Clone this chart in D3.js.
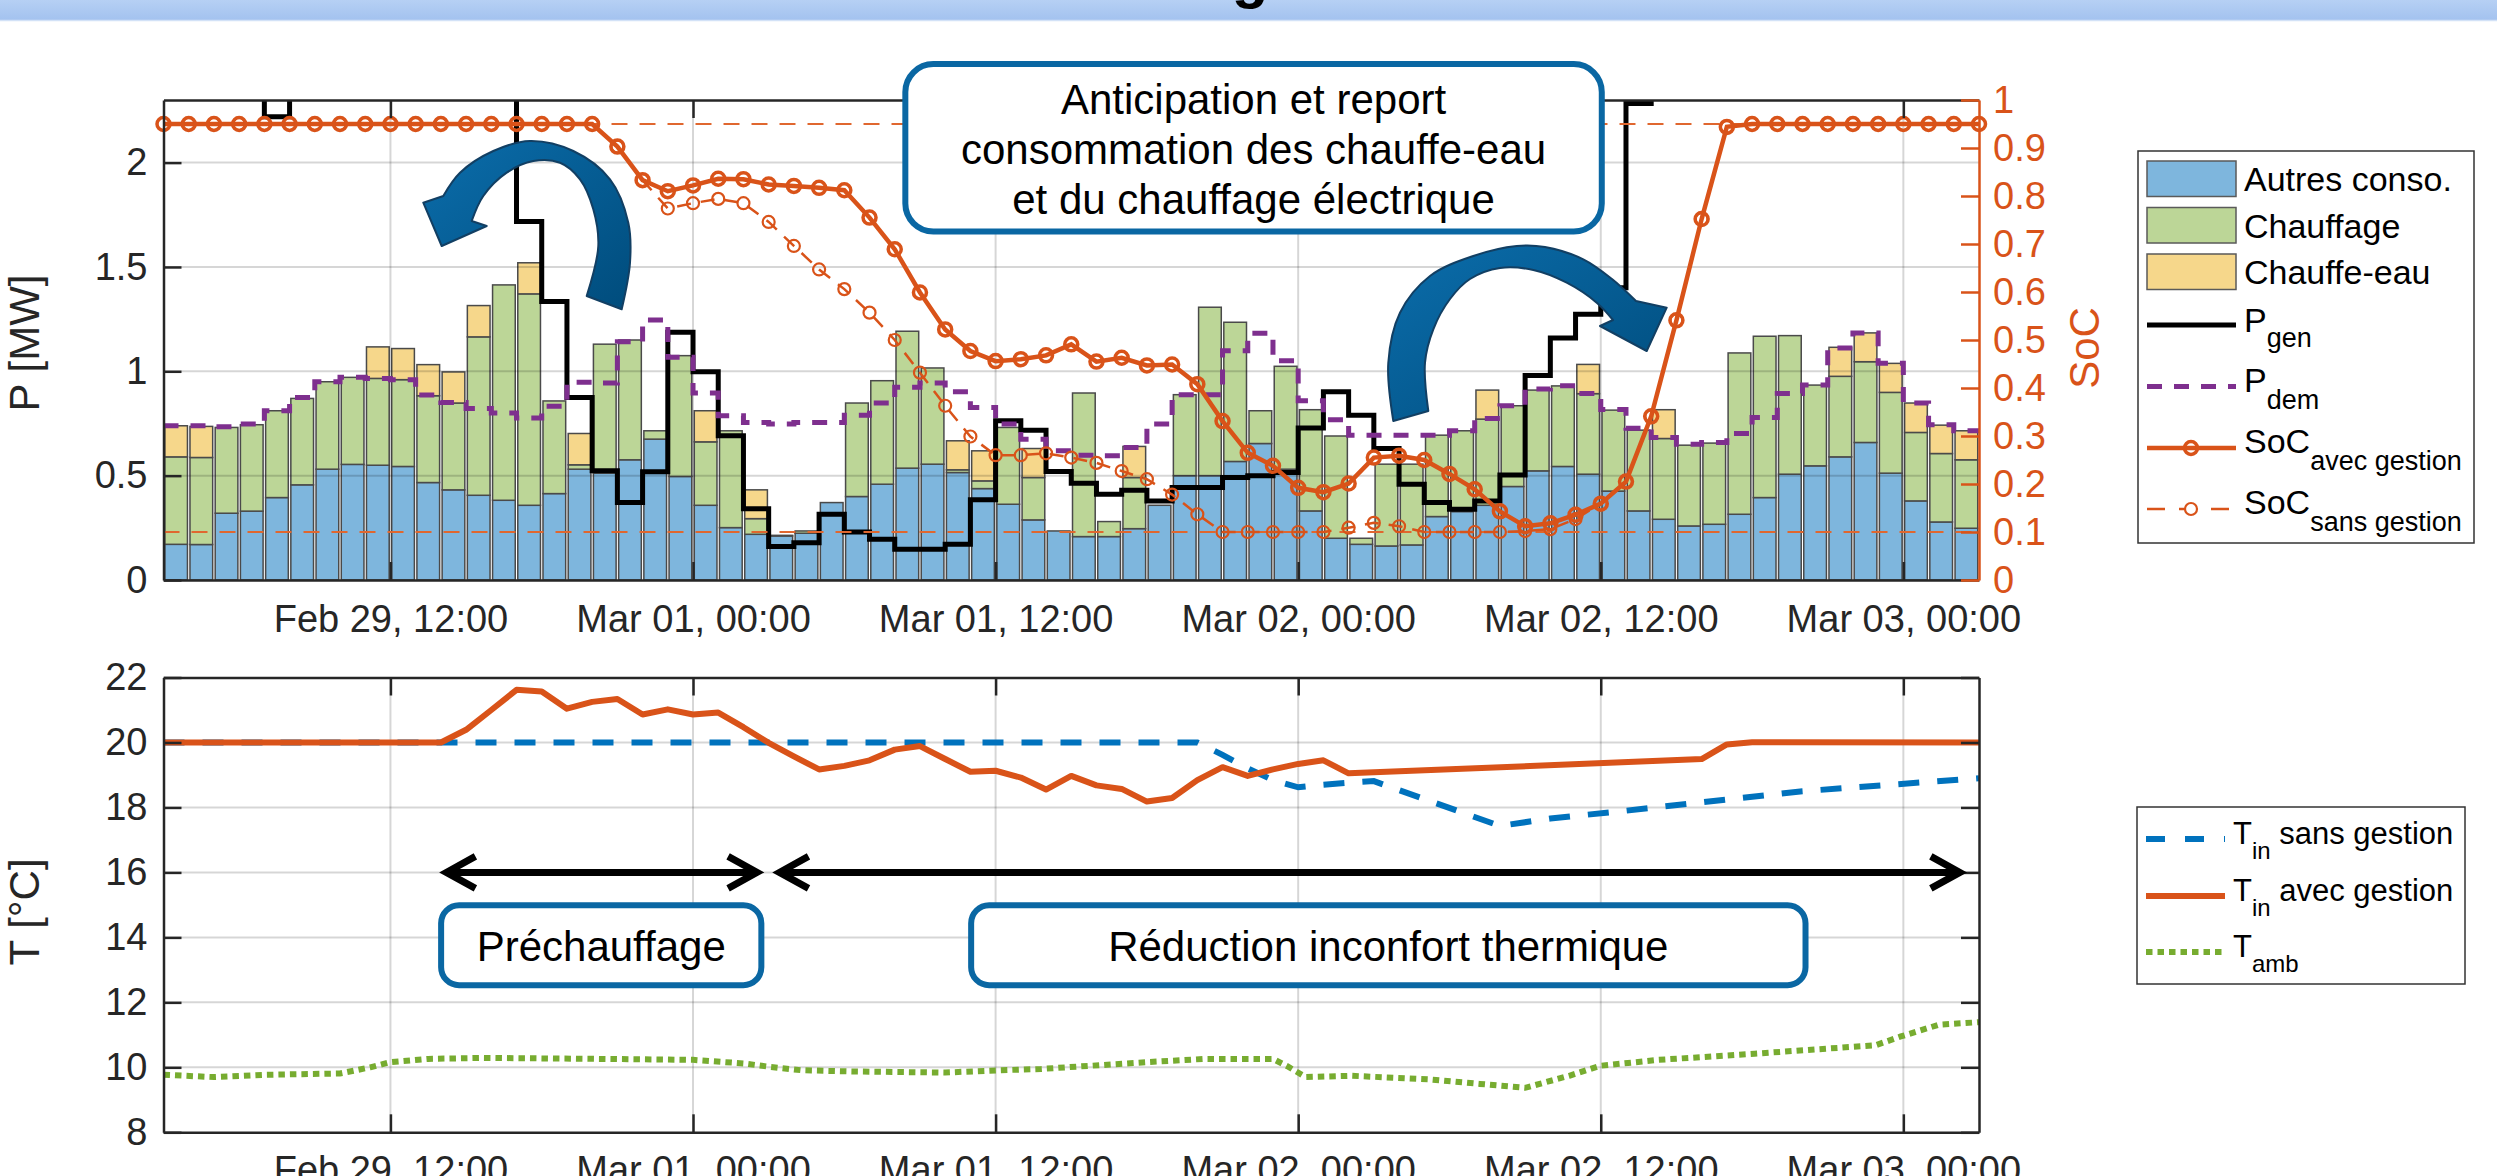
<!DOCTYPE html>
<html>
<head>
<meta charset="utf-8">
<script src="https://cdn.jsdelivr.net/npm/d3@7"></script>
<style>
  body { margin: 0; background: #fff; }
  svg { display: block; font-family: "Liberation Sans", Arial, sans-serif; }
</style>
</head>
<body>
<svg id="chart" width="2497" height="1176"></svg>
<script>
// ---------- data (hourly, starting Feb 29 03:00) ----------
const startTime = new Date(2024, 1, 29, 3);
const nHours = 72;

// stacked consumption [MW], one value per hour
const autres = [0.171, 0.170, 0.320, 0.330, 0.395, 0.456, 0.531, 0.554, 0.550, 0.544, 0.467, 0.432,
  0.406, 0.382, 0.358, 0.414, 0.531, 0.512, 0.576, 0.675, 0.496, 0.358, 0.251, 0.219,
  0.211, 0.224, 0.371, 0.400, 0.459, 0.536, 0.555, 0.515, 0.438, 0.363, 0.288, 0.235,
  0.208, 0.208, 0.246, 0.358, 0.500, 0.500, 0.568, 0.654, 0.531, 0.331, 0.200, 0.171,
  0.163, 0.168, 0.304, 0.328, 0.358, 0.448, 0.523, 0.544, 0.507, 0.426, 0.331, 0.291,
  0.259, 0.267, 0.315, 0.395, 0.507, 0.547, 0.590, 0.659, 0.512, 0.379, 0.278, 0.248];
const chauffage = [0.419, 0.417, 0.411, 0.414, 0.416, 0.414, 0.419, 0.417, 0.416, 0.416, 0.416, 0.416,
  0.759, 1.032, 1.013, 0.444, 0.021, 0.618, 0.574, 0.040, 0.579, 0.304, 0.464, 0.075,
  0.003, 0.011, 0, 0.448, 0.496, 0.656, 0.461, 0.013, 0.037, 0.368, 0.203, 0,
  0.688, 0.072, 0.245, 0, 0.388, 0.807, 0.667, 0.157, 0.493, 0.485, 0.490, 0.029,
  0.392, 0.387, 0.390, 0.387, 0.413, 0.387, 0.387, 0.386, 0.386, 0.388, 0.387, 0.387,
  0.387, 0.389, 0.773, 0.773, 0.664, 0.387, 0.386, 0.387, 0.387, 0.328, 0.328, 0.328];
const chauffeEau = [0.149, 0.149, 0, 0, 0, 0, 0, 0, 0.151, 0.149, 0.149, 0.149,
  0.150, 0, 0.149, 0, 0.150, 0, 0, 0, 0, 0.149, 0, 0.138,
  0, 0, 0, 0, 0, 0, 0, 0.139, 0.144, 0, 0.139, 0,
  0, 0, 0.149, 0, 0, 0, 0, 0, 0, 0, 0, 0,
  0, 0, 0, 0, 0.139, 0, 0, 0, 0.140, 0, 0, 0.138,
  0, 0, 0, 0, 0, 0, 0.139, 0.138, 0.139, 0.141, 0.136, 0.139];

// generation and demand [MW] (values above 2.3 leave the plot)
const pGen = [2.6, 2.6, 2.6, 2.6, 2.22, 2.6, 2.6, 2.6, 2.6, 2.6, 2.6, 2.6,
  2.6, 2.6, 1.718, 1.334, 0.875, 0.523, 0.371, 0.519, 1.187, 0.998, 0.691, 0.342,
  0.160, 0.179, 0.315, 0.230, 0.195, 0.147, 0.147, 0.171, 0.384, 0.763, 0.718, 0.520,
  0.464, 0.411, 0.430, 0.379, 0.443, 0.443, 0.491, 0.499, 0.515, 0.728, 0.902, 0.790,
  0.630, 0.459, 0.371, 0.339, 0.379, 0.503, 0.980, 1.160, 1.273, 1.400, 2.283, 2.6,
  2.6, 2.6, 2.6, 2.6, 2.6, 2.6, 2.6, 2.6, 2.6, 2.6, 2.6, 2.6];
const pDem = [0.739, 0.739, 0.734, 0.747, 0.811, 0.875, 0.950, 0.971, 0.966, 0.960, 0.886, 0.851,
  0.822, 0.800, 0.776, 0.832, 0.947, 0.944, 1.142, 1.246, 1.067, 0.896, 0.787, 0.755,
  0.747, 0.755, 0.755, 0.790, 0.848, 0.923, 0.944, 0.902, 0.827, 0.747, 0.675, 0.619,
  0.598, 0.595, 0.635, 0.747, 0.888, 0.888, 1.099, 1.182, 1.051, 0.859, 0.768, 0.694,
  0.694, 0.694, 0.694, 0.715, 0.774, 0.835, 0.915, 0.931, 0.894, 0.817, 0.727, 0.683,
  0.651, 0.659, 0.702, 0.779, 0.894, 0.934, 1.112, 1.184, 1.038, 0.848, 0.744, 0.715];

// state of charge, one value per hour boundary (73 points)
const socAvec = [0.95, 0.95, 0.95, 0.95, 0.95, 0.95, 0.95, 0.95, 0.95, 0.95, 0.95, 0.95,
  0.95, 0.95, 0.95, 0.95, 0.95, 0.95, 0.903, 0.833, 0.810, 0.822, 0.836, 0.835,
  0.824, 0.821, 0.817, 0.812, 0.755, 0.689, 0.599, 0.522, 0.477, 0.456, 0.460, 0.468,
  0.491, 0.455, 0.463, 0.447, 0.449, 0.408, 0.331, 0.265, 0.238, 0.192, 0.183, 0.201,
  0.255, 0.259, 0.250, 0.221, 0.189, 0.143, 0.112, 0.118, 0.136, 0.159, 0.205, 0.341,
  0.541, 0.752, 0.944, 0.95, 0.95, 0.95, 0.95, 0.95, 0.95, 0.95, 0.95, 0.95, 0.95];
const socSans = [0.95, 0.95, 0.95, 0.95, 0.95, 0.95, 0.95, 0.95, 0.95, 0.95, 0.95, 0.95,
  0.95, 0.95, 0.95, 0.95, 0.95, 0.95, 0.903, 0.833, 0.774, 0.785, 0.794, 0.785,
  0.746, 0.696, 0.647, 0.606, 0.557, 0.500, 0.432, 0.363, 0.299, 0.260, 0.260, 0.264,
  0.255, 0.244, 0.227, 0.210, 0.178, 0.137, 0.100, 0.100, 0.100, 0.100, 0.100, 0.109,
  0.119, 0.112, 0.100, 0.100, 0.100, 0.100, 0.102, 0.106, 0.127, 0.159, 0.205, 0.341,
  0.541, 0.752, 0.944, 0.95, 0.95, 0.95, 0.95, 0.95, 0.95, 0.95, 0.95, 0.95, 0.95];
const socLimits = [0.1, 0.95];

// temperatures [°C]: vertices as (hour, value)
const tSansHour = [0, 41, 42, 43, 44, 45, 46, 47, 48, 53, 55, 58, 65, 72];
const tSansVal  = [20, 20, 19.62, 19.2, 18.84, 18.62, 18.7, 18.76, 18.81, 17.43, 17.66, 17.9, 18.5, 18.9];
const tAvecHour = [0, 11, 12, 13, 14, 15, 16, 17, 18, 19, 20, 21, 22, 23, 24, 25, 26, 27, 28, 29, 30,
  31, 32, 33, 34, 35, 36, 37, 38, 39, 40, 41, 42, 43, 44, 45, 46, 47, 61, 62, 63, 72];
const tAvecVal  = [20, 20, 20.39, 21.0, 21.62, 21.57, 21.04, 21.25, 21.34, 20.86, 21.02, 20.86, 20.92,
  20.47, 19.99, 19.57, 19.17, 19.28, 19.45, 19.78, 19.89, 19.49, 19.1, 19.13, 18.92, 18.55, 18.97,
  18.68, 18.57, 18.18, 18.29, 18.84, 19.24, 18.97, 19.17, 19.34, 19.45, 19.05, 19.49, 19.94, 20.01, 20];
const tAmbHour = [0, 2, 4, 7, 8.2, 9, 10.5, 12.7, 17.3, 21, 23, 24, 25.3, 27.5, 31, 33.2, 34.8, 39,
  41.3, 44, 44.6, 45.3, 47.1, 50.2, 52.2, 54, 55.75, 57, 59.3, 63.1, 67.9, 68.9, 70.4, 72];
const tAmbVal  = [9.77, 9.7, 9.77, 9.81, 10.0, 10.16, 10.26, 10.29, 10.26, 10.23, 10.12, 10.02, 9.91,
  9.87, 9.84, 9.91, 9.95, 10.16, 10.26, 10.26, 10.02, 9.7, 9.74, 9.63, 9.49, 9.37, 9.74, 10.05,
  10.23, 10.42, 10.68, 10.95, 11.31, 11.39];

// ticks
const timeTickHours = [9, 21, 33, 45, 57, 69];
const pTicks = [0, 0.5, 1, 1.5, 2];
const socTicks = [0, 0.1, 0.2, 0.3, 0.4, 0.5, 0.6, 0.7, 0.8, 0.9, 1];
const tTicks = [8, 10, 12, 14, 16, 18, 20, 22];

// ---------- layout ----------
const C = {
  blue: '#7eb6dd', green: '#bcd697', yellow: '#f6d78b', orange: '#d95319',
  purple: '#7e2f8e', tBlue: '#0072bd', tGreen: '#77ac30', axis: '#262626', box: '#0a67a3'
};
const plotL = 163.5, plotR = 1979;
const top1 = 100, bot1 = 580;
const top2 = 677.5, bot2 = 1132.3;
const tickFont = 38, labelFont = 42, boxFont = 42;

const at = h => new Date(startTime.getTime() + h * 36e5);
const x = d3.scaleTime().domain([at(0), at(nHours)]).range([plotL, plotR]);
const yP = d3.scaleLinear().domain([0, 2.3]).range([bot1, top1]);
const ySoc = d3.scaleLinear().domain([0, 1]).range([bot1, top1]);
const yT = d3.scaleLinear().domain([8, 22]).range([bot2, top2]);
const timeFmt = d3.timeFormat('%b %d, %H:%M');
const numFmt = d => String(+d.toFixed(1));
const timeTicks = timeTickHours.map(at);

const svg = d3.select('#chart');
const defs = svg.append('defs');

// banner at the top (title cut off)
const bannerGrad = defs.append('linearGradient').attr('id', 'banner').attr('x1', 0).attr('x2', 0).attr('y1', 0).attr('y2', 1);
bannerGrad.append('stop').attr('offset', 0).attr('stop-color', '#b6d0f4');
bannerGrad.append('stop').attr('offset', 1).attr('stop-color', '#a3c2ef');
svg.append('rect').attr('x', 0).attr('y', 0).attr('width', 2497).attr('height', 20).attr('fill', 'url(#banner)');
svg.append('line').attr('x1', 0).attr('x2', 2497).attr('y1', 20.5).attr('y2', 20.5).attr('stroke', '#d3e2f7').attr('stroke-width', 1.5);
svg.append('text').attr('x', 1250).attr('y', -3).attr('text-anchor', 'middle')
  .attr('font-size', 60).attr('font-weight', 'bold').text('g');

defs.append('clipPath').attr('id', 'clip1').append('rect')
  .attr('x', plotL).attr('y', top1).attr('width', plotR - plotL).attr('height', bot1 - top1);
defs.append('clipPath').attr('id', 'clip2').append('rect')
  .attr('x', plotL).attr('y', top2).attr('width', plotR - plotL).attr('height', bot2 - top2);

function styleAxis(g, color) {
  g.select('.domain').attr('stroke', color).attr('stroke-width', 2.5);
  g.selectAll('.tick line').attr('stroke', color).attr('stroke-width', 2.5);
  g.selectAll('.tick text').attr('fill', color).attr('font-size', tickFont)
    .attr('font-family', '"Liberation Sans", Arial, sans-serif');
}

function grid(g, yScale, yVals, y0, y1) {
  const gg = g.append('g').attr('stroke', '#000').attr('stroke-opacity', 0.16).attr('stroke-width', 2);
  gg.selectAll('.gx').data(timeTicks).join('line')
    .attr('x1', d => x(d)).attr('x2', d => x(d)).attr('y1', y0).attr('y2', y1);
  gg.selectAll('.gy').data(yVals).join('line')
    .attr('x1', plotL).attr('x2', plotR).attr('y1', d => yScale(d)).attr('y2', d => yScale(d));
}

// ---------- top panel ----------
const g1 = svg.append('g');
const slot = x(at(1)) - x(at(0));
const rows = autres.map((d, i) => ({ i, autres: d, chauffage: chauffage[i], chauffeEau: chauffeEau[i] }));
const stacked = d3.stack().keys(['autres', 'chauffage', 'chauffeEau'])(rows);
const barColor = { autres: C.blue, chauffage: C.green, chauffeEau: C.yellow };

g1.append('g').selectAll('g').data(stacked).join('g')
  .attr('fill', s => barColor[s.key]).attr('stroke', '#4a4a4a').attr('stroke-width', 1.5)
  .selectAll('rect').data(s => s.filter(d => d[1] - d[0] > 0.0005)).join('rect')
  .attr('x', d => x(at(d.data.i)) + slot * 0.05)
  .attr('width', slot * 0.9)
  .attr('y', d => yP(d[1]))
  .attr('height', d => yP(d[0]) - yP(d[1]));

grid(g1, yP, pTicks.filter(d => d > 0), top1, bot1);

const stepLine = d3.line().x(d => x(at(d[0]))).y(d => yP(d[1])).curve(d3.curveStepAfter);
const stepPts = arr => arr.map((v, i) => [i, v]).concat([[arr.length, arr[arr.length - 1]]]);
const clipped1 = g1.append('g').attr('clip-path', 'url(#clip1)');
clipped1.append('path').attr('d', stepLine(stepPts(pGen)))
  .attr('fill', 'none').attr('stroke', '#000').attr('stroke-width', 5);
clipped1.append('path').attr('d', stepLine(stepPts(pDem)))
  .attr('fill', 'none').attr('stroke', C.purple).attr('stroke-width', 5).attr('stroke-dasharray', '15,12');

// SoC limits
clipped1.selectAll('.lim').data(socLimits).join('line')
  .attr('x1', plotL).attr('x2', plotR).attr('y1', d => ySoc(d)).attr('y2', d => ySoc(d))
  .attr('stroke', '#e0672f').attr('stroke-width', 2.2).attr('stroke-dasharray', '16,12');

const socLine = d3.line().x((d, i) => x(at(i))).y(d => ySoc(d));
clipped1.append('path').attr('d', socLine(socSans))
  .attr('fill', 'none').attr('stroke', C.orange).attr('stroke-width', 2.5).attr('stroke-dasharray', '14,10');
clipped1.append('g').selectAll('circle').data(socSans).join('circle')
  .attr('cx', (d, i) => x(at(i))).attr('cy', d => ySoc(d)).attr('r', 6)
  .attr('fill', 'none').attr('stroke', C.orange).attr('stroke-width', 2.2);
g1.append('path').attr('d', socLine(socAvec))
  .attr('fill', 'none').attr('stroke', C.orange).attr('stroke-width', 4.5);
g1.append('g').selectAll('circle').data(socAvec).join('circle')
  .attr('cx', (d, i) => x(at(i))).attr('cy', d => ySoc(d)).attr('r', 6.5)
  .attr('fill', 'none').attr('stroke', C.orange).attr('stroke-width', 3.5);

// axes
const ax1b = g1.append('g').attr('transform', `translate(0,${bot1})`)
  .call(d3.axisBottom(x).tickValues(timeTicks).tickFormat(timeFmt).tickSizeInner(-18).tickSizeOuter(0).tickPadding(25));
styleAxis(ax1b, C.axis);
const ax1t = g1.append('g').attr('transform', `translate(0,${top1})`)
  .call(d3.axisTop(x).tickValues(timeTicks).tickFormat('').tickSizeInner(-18).tickSizeOuter(0));
styleAxis(ax1t, C.axis);
const ax1l = g1.append('g').attr('transform', `translate(${plotL},0)`)
  .call(d3.axisLeft(yP).tickValues(pTicks).tickFormat(numFmt).tickSizeInner(-18).tickSizeOuter(0).tickPadding(16));
styleAxis(ax1l, C.axis);
const ax1r = g1.append('g').attr('transform', `translate(${plotR},0)`)
  .call(d3.axisRight(ySoc).tickValues(socTicks).tickFormat(numFmt).tickSizeInner(-18).tickSizeOuter(0).tickPadding(14));
styleAxis(ax1r, C.orange);

g1.append('text').attr('transform', `translate(39,${(top1 + bot1) / 2 + 3}) rotate(-90)`)
  .attr('text-anchor', 'middle').attr('font-size', labelFont).attr('fill', C.axis).text('P [MW]');
g1.append('text').attr('transform', `translate(2099,${(top1 + bot1) / 2 + 8}) rotate(-90)`)
  .attr('text-anchor', 'middle').attr('font-size', labelFont).attr('fill', C.orange).text('SoC');

// curved arrows
const arrowGrad = defs.append('linearGradient').attr('id', 'arrowFill').attr('x1', 0).attr('x2', 1).attr('y1', 0).attr('y2', 1);
arrowGrad.append('stop').attr('offset', 0).attr('stop-color', '#0b6dab');
arrowGrad.append('stop').attr('offset', 1).attr('stop-color', '#004c7c');
const smooth = d3.line().curve(d3.curveCatmullRom);
function curvedArrow(outer, head, inner) {
  const a = smooth(outer);
  const b = head.map(p => `L${p[0]},${p[1]}`).join('');
  const c = smooth(inner).replace(/^M/, 'L');
  return a + b + c + 'Z';
}
const arrows = [
  {
    outer: [[621.7, 309.3], [630, 262.7], [628.3, 222.7], [610, 179.3], [573.3, 151], [530, 141], [493.3, 151], [460, 172.7], [443.3, 196]],
    head: [[423.3, 202.7], [441.7, 246], [486.7, 226], [471.7, 221]],
    inner: [[471.7, 221], [483.3, 196], [506.7, 172.7], [533.3, 161], [560, 162.7], [580, 179.3], [593.3, 209.3], [598.3, 246], [586.7, 296]]
  },
  {
    outer: [[1393.3, 421], [1388.3, 362.7], [1400, 312.7], [1430, 276], [1473.3, 256], [1516.7, 246], [1545, 247], [1583.3, 259.3], [1612, 279], [1636, 301]],
    head: [[1666.7, 307.7], [1646.7, 351], [1600, 326], [1613, 320]],
    inner: [[1613, 320], [1596.7, 302.7], [1566.7, 282.7], [1533.3, 270], [1500, 268], [1470, 279], [1450, 299], [1433.3, 329.3], [1425, 362.7], [1428.3, 411]]
  }
];
svg.append('g').selectAll('path').data(arrows).join('path')
  .attr('d', d => curvedArrow(d.outer, d.head, d.inner))
  .attr('fill', 'url(#arrowFill)').attr('stroke', '#123f63').attr('stroke-width', 2).attr('stroke-linejoin', 'round');

// annotation box (top)
const boxTop = svg.append('g');
boxTop.append('rect').attr('x', x(at(29.42))).attr('y', yP(2.472))
  .attr('width', x(at(57.04)) - x(at(29.42))).attr('height', yP(1.67) - yP(2.472))
  .attr('rx', 28).attr('fill', '#fff').attr('stroke', C.box).attr('stroke-width', 6);
const boxLines = ['Anticipation et report', 'consommation des chauffe-eau', 'et du chauffage électrique'];
boxTop.selectAll('text').data(boxLines).join('text')
  .attr('x', x(at(43.23))).attr('y', (d, i) => yP(2.231 - i * 0.2396))
  .attr('text-anchor', 'middle').attr('font-size', boxFont).attr('fill', '#000').text(d => d);

// ---------- bottom panel ----------
const g2 = svg.append('g');
grid(g2, yT, tTicks.filter(d => d > 8 && d < 22), top2, bot2);
const tLine = (hs, vs) => d3.line().x((d, i) => x(at(hs[i]))).y(d => yT(d))(vs);
const clipped2 = g2.append('g').attr('clip-path', 'url(#clip2)');
clipped2.append('path').attr('d', tLine(tSansHour, tSansVal))
  .attr('fill', 'none').attr('stroke', C.tBlue).attr('stroke-width', 6).attr('stroke-dasharray', '21,18');
clipped2.append('path').attr('d', tLine(tAvecHour, tAvecVal))
  .attr('fill', 'none').attr('stroke', C.orange).attr('stroke-width', 6).attr('stroke-linejoin', 'round');
clipped2.append('path').attr('d', tLine(tAmbHour, tAmbVal))
  .attr('fill', 'none').attr('stroke', C.tGreen).attr('stroke-width', 6).attr('stroke-dasharray', '6.5,5');

const ax2b = g2.append('g').attr('transform', `translate(0,${bot2})`)
  .call(d3.axisBottom(x).tickValues(timeTicks).tickFormat(timeFmt).tickSizeInner(-18).tickSizeOuter(0).tickPadding(24));
styleAxis(ax2b, C.axis);
const ax2t = g2.append('g').attr('transform', `translate(0,${top2})`)
  .call(d3.axisTop(x).tickValues(timeTicks).tickFormat('').tickSizeInner(-18).tickSizeOuter(0));
styleAxis(ax2t, C.axis);
const ax2l = g2.append('g').attr('transform', `translate(${plotL},0)`)
  .call(d3.axisLeft(yT).tickValues(tTicks).tickSizeInner(-18).tickSizeOuter(0).tickPadding(16));
styleAxis(ax2l, C.axis);
const ax2r = g2.append('g').attr('transform', `translate(${plotR},0)`)
  .call(d3.axisRight(yT).tickValues(tTicks).tickFormat('').tickSizeInner(-18).tickSizeOuter(0));
styleAxis(ax2r, C.axis);

g2.append('text').attr('transform', `translate(39,${(top2 + bot2) / 2 + 7}) rotate(-90)`)
  .attr('text-anchor', 'middle').attr('font-size', labelFont).attr('fill', C.axis).text('T [°C]');

// double arrows at 16 °C
const spans = [[11.14, 23.62], [24.35, 71.32]];
const arrowG = g2.append('g').attr('stroke', '#000').attr('stroke-width', 7).attr('fill', 'none');
spans.forEach(([h0, h1]) => {
  const x0 = x(at(h0)), x1 = x(at(h1)), y = yT(16);
  arrowG.append('line').attr('x1', x0 + 3).attr('x2', x1 - 3).attr('y1', y).attr('y2', y);
  arrowG.append('path').attr('d', `M${x0 + 31},${y - 16}L${x0 + 2},${y}L${x0 + 31},${y + 16}`);
  arrowG.append('path').attr('d', `M${x1 - 31},${y - 16}L${x1 - 2},${y}L${x1 - 31},${y + 16}`);
});

// labelled boxes
const boxes = [
  { h0: 11.01, h1: 23.71, label: 'Préchauffage' },
  { h0: 32.03, h1: 65.12, label: 'Réduction inconfort thermique' }
];
const bx = g2.append('g').selectAll('g').data(boxes).join('g');
bx.append('rect').attr('x', d => x(at(d.h0))).attr('y', yT(14.99))
  .attr('width', d => x(at(d.h1)) - x(at(d.h0))).attr('height', yT(12.53) - yT(14.99))
  .attr('rx', 18).attr('fill', '#fff').attr('stroke', C.box).attr('stroke-width', 6);
bx.append('text').attr('x', d => (x(at(d.h0)) + x(at(d.h1))) / 2).attr('y', yT(13.27))
  .attr('text-anchor', 'middle').attr('font-size', boxFont).attr('fill', '#000').text(d => d.label);

// ---------- legends ----------
const lg1 = svg.append('g');
lg1.append('rect').attr('x', 2138).attr('y', 151).attr('width', 336).attr('height', 392)
  .attr('fill', '#fff').attr('stroke', '#333').attr('stroke-width', 1.5);
const lgBars = [
  { key: 'autres', label: 'Autres conso.', y: 161 },
  { key: 'chauffage', label: 'Chauffage', y: 207.5 },
  { key: 'chauffeEau', label: 'Chauffe-eau', y: 254 }
];
lgBars.forEach(d => {
  lg1.append('rect').attr('x', 2147).attr('y', d.y).attr('width', 89).attr('height', 35.5)
    .attr('fill', barColor[d.key]).attr('stroke', '#5a5a5a').attr('stroke-width', 1.5);
  lg1.append('text').attr('x', 2244).attr('y', d.y + 30).attr('font-size', 34).text(d.label);
});
function legendLabel(g, xx, y, main, sub, dy, size, subSize, rest) {
  const t = g.append('text').attr('x', xx).attr('y', y).attr('font-size', size).text(main);
  t.append('tspan').attr('dy', dy).attr('font-size', subSize).text(sub);
  if (rest) t.append('tspan').attr('dy', -dy).attr('font-size', size).text(rest);
}
lg1.append('line').attr('x1', 2147).attr('x2', 2236).attr('y1', 325).attr('y2', 325)
  .attr('stroke', '#000').attr('stroke-width', 5);
legendLabel(lg1, 2244, 332, 'P', 'gen', 15, 34, 27);
lg1.append('line').attr('x1', 2147).attr('x2', 2236).attr('y1', 386.5).attr('y2', 386.5)
  .attr('stroke', C.purple).attr('stroke-width', 5).attr('stroke-dasharray', '15,12');
legendLabel(lg1, 2244, 392, 'P', 'dem', 17, 34, 27);
lg1.append('line').attr('x1', 2147).attr('x2', 2236).attr('y1', 448).attr('y2', 448)
  .attr('stroke', C.orange).attr('stroke-width', 4.5);
lg1.append('circle').attr('cx', 2191).attr('cy', 448).attr('r', 6.5)
  .attr('fill', 'none').attr('stroke', C.orange).attr('stroke-width', 3.5);
legendLabel(lg1, 2244, 452.6, 'SoC', 'avec gestion', 17, 34, 27);
lg1.append('line').attr('x1', 2147).attr('x2', 2236).attr('y1', 509).attr('y2', 509)
  .attr('stroke', C.orange).attr('stroke-width', 2.5).attr('stroke-dasharray', '18,14');
lg1.append('circle').attr('cx', 2191).attr('cy', 509).attr('r', 6)
  .attr('fill', '#fff').attr('stroke', C.orange).attr('stroke-width', 2.2);
legendLabel(lg1, 2244, 514, 'SoC', 'sans gestion', 17, 34, 27);

const lg2 = svg.append('g');
lg2.append('rect').attr('x', 2137).attr('y', 807).attr('width', 328).attr('height', 177)
  .attr('fill', '#fff').attr('stroke', '#333').attr('stroke-width', 1.5);
lg2.append('line').attr('x1', 2146).attr('x2', 2225).attr('y1', 839).attr('y2', 839)
  .attr('stroke', C.tBlue).attr('stroke-width', 6).attr('stroke-dasharray', '19,20');
legendLabel(lg2, 2233, 844, 'T', 'in', 15, 31, 24, ' sans gestion');
lg2.append('line').attr('x1', 2146).attr('x2', 2225).attr('y1', 896).attr('y2', 896)
  .attr('stroke', C.orange).attr('stroke-width', 6);
legendLabel(lg2, 2233, 901, 'T', 'in', 15, 31, 24, ' avec gestion');
lg2.append('line').attr('x1', 2146).attr('x2', 2225).attr('y1', 952).attr('y2', 952)
  .attr('stroke', C.tGreen).attr('stroke-width', 6).attr('stroke-dasharray', '6.5,5');
legendLabel(lg2, 2233, 957, 'T', 'amb', 15, 31, 24);
</script>
</body>
</html>
